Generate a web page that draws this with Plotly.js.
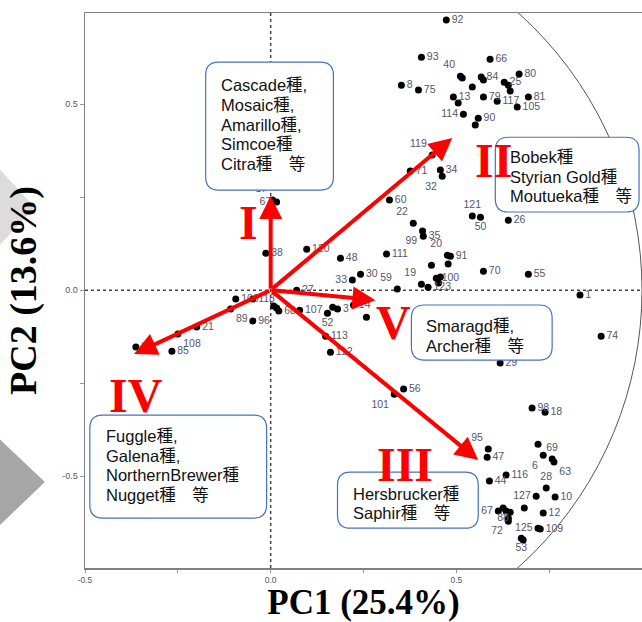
<!DOCTYPE html>
<html>
<head>
<meta charset="utf-8">
<script src="https://cdn.plot.ly/plotly-3.0.1.min.js"></script>
<style>html,body{margin:0;padding:0;background:#fff;}#chart{width:642px;height:622px;}</style>
</head>
<body>
<div id="chart"></div>
<script>
// ---- sample scores (PC1, PC2) ----
const sampleIds = ["92","93","66","40","","8","75","84","","","80","25","","","81","13","","79","117","105","114","90","",
  "119","71","34","32","60","121","50","26","22","99","35","111","20","91","","","70","55","19","123","100","","","59","1","74",
  "17","67","38","120","48","30","33","27","14","","","3","52","107","","","68","118","106","89","96","113","112","21","108","85","37",
  "29","56","101","98","18","95","47","","6","69","63","116","44","28","10","127","","12","67","88","","","","72","125","109","53",""];
const pc1 = [0.473,0.406,0.591,0.511,0.516,0.352,0.398,0.567,0.573,0.543,0.669,0.629,0.640,0.645,0.694,0.492,0.505,0.573,0.610,0.664,0.519,0.559,0.551,
  0.435,0.376,0.457,0.462,0.320,0.543,0.565,0.640,0.384,0.409,0.411,0.312,0.476,0.484,0.433,0.478,0.573,0.694,0.406,0.424,0.446,0.457,0.452,0.341,0.833,0.890,
  0.005,0.016,-0.013,0.097,0.188,0.242,0.220,0.070,0.223,0.258,0.167,0.180,0.153,0.078,0.008,0.016,0.022,-0.048,-0.094,-0.108,-0.048,0.148,0.161,-0.199,-0.250,-0.266,-0.363,
  0.618,0.358,0.333,0.704,0.739,0.586,0.583,0.720,0.734,0.758,0.763,0.634,0.589,0.742,0.766,0.715,0.683,0.734,0.613,0.626,0.634,0.645,0.640,0.640,0.720,0.726,0.675,0.680];
const pc2 = [0.726,0.626,0.621,0.575,0.570,0.551,0.538,0.573,0.565,0.546,0.581,0.559,0.551,0.535,0.519,0.519,0.503,0.519,0.508,0.492,0.473,0.462,0.444,
  0.363,0.320,0.323,0.306,0.242,0.199,0.196,0.188,0.180,0.159,0.145,0.097,0.094,0.091,0.067,0.070,0.051,0.043,0.016,0.008,0.032,0.035,0.019,0.003,-0.013,-0.124,
  0.242,0.237,0.099,0.110,0.086,0.043,0.027,0.000,-0.040,-0.073,-0.046,-0.051,-0.062,-0.054,-0.043,-0.048,-0.056,-0.024,-0.024,-0.051,-0.083,-0.124,-0.167,-0.099,-0.118,-0.164,-0.153,
  -0.196,-0.266,-0.280,-0.317,-0.328,-0.427,-0.449,-0.414,-0.444,-0.454,-0.462,-0.497,-0.513,-0.532,-0.556,-0.554,-0.586,-0.599,-0.594,-0.586,-0.594,-0.597,-0.613,-0.621,-0.640,-0.642,-0.667,-0.672];

// ---- loading vectors ----
const loadingNames = ["I","II","III","IV","V"];
const loadPC1 = [0.000, 0.489, 0.559, -0.368, 0.282];
const loadPC2 = [0.253, 0.409, -0.457, -0.172, -0.027];

// ---- variety groups ----
const groupText = [
  ["Cascade種,","Mosaic種,","Amarillo種,","Simcoe種","Citra種　等"],
  ["Bobek種","Styrian Gold種","Moutueka種　等"],
  ["Smaragd種,","Archer種　等"],
  ["Fuggle種,","Galena種,","NorthernBrewer種","Nugget種　等"],
  ["Hersbrucker種","Saphir種　等"]
];

// ---- tick labels ----
const xTickVals = [-0.5,-0.25,0,0.25,0.5,0.75,1];
const xTickText = ["-0.5","","0.0","","0.5","","1"];
const yTickVals = [-0.5,-0.25,0,0.25,0.5];
const yTickText = ["-0.5","","0.0","","0.5"];

// ---- label placement (style) ----
const posOverride = {"40":"top left","114":"middle left","121":"top center","50":"bottom center","22":"top left","99":"bottom left",
  "20":"top left","19":"top left","59":"top left","33":"middle left","89":"bottom right","52":"bottom center","95":"top left",
  "28":"top center","127":"middle left","67":"middle left","72":"bottom left","125":"middle left","53":"bottom center","101":"bottom left",
  "17":"top left","32":"bottom left","119":"top left","69":"top center","6":"bottom left","63":"bottom right","108":"bottom right","88":"bottom center"};
const textPos = sampleIds.map(s => posOverride[s] || "middle right");

const scatter = {
  x: pc1, y: pc2, text: sampleIds, mode: "markers+text", type: "scatter",
  textposition: textPos,
  textfont: {family: "Liberation Sans, Arial, sans-serif", size: 10.5, color: "#55556a"},
  marker: {color: "#000", size: 7},
  hoverinfo: "none", showlegend: false, cliponaxis: false
};

// rounded boxes (data coords)
const boxes = [
  [-0.175, 0.169, 0.269, 0.613],
  [0.605, 0.992, 0.210, 0.411],
  [0.379, 0.758, -0.188, -0.040],
  [-0.487, -0.011, -0.613, -0.336],
  [0.180, 0.559, -0.640, -0.489]
];
const textAnchor = [[-0.140, 0.551],[0.640, 0.358],[0.414, -0.097],[-0.449, -0.392],[0.215, -0.547]];
const lineStep = 0.053;
const romanPos = [[-0.059, 0.183],[0.599, 0.349],[0.363, -0.470],[-0.363, -0.282],[0.331, -0.086]];

function roundRect(x0,x1,y0,y1,r){
  return `M${x0+r},${y0} L${x1-r},${y0} Q${x1},${y0} ${x1},${y0+r} L${x1},${y1-r} Q${x1},${y1} ${x1-r},${y1} L${x0+r},${y1} Q${x0},${y1} ${x0},${y1-r} L${x0},${y0+r} Q${x0},${y0} ${x0+r},${y0} Z`;
}

const shapes = [
  {type:"line", xref:"x", yref:"paper", x0:0, x1:0, y0:0, y1:1, line:{color:"#444", width:1.5, dash:"dot"}, layer:"below"},
  {type:"line", xref:"paper", yref:"y", x0:0, x1:1, y0:0, y1:0, line:{color:"#444", width:1.5, dash:"dot"}, layer:"below"},
  {type:"circle", xref:"x", yref:"y", x0:-1, x1:1, y0:-1, y1:1, line:{color:"#555", width:1}, layer:"below"},
  // decorative slide chevrons at left edge
  {type:"path", xref:"paper", yref:"paper", path:"M-0.153,0.582 L-0.090,0.650 L-0.153,0.718 Z", fillcolor:"#dcdcdc", line:{width:0}, layer:"below"},
  {type:"path", xref:"paper", yref:"paper", path:"M-0.153,0.077 L-0.072,0.155 L-0.153,0.232 Z", fillcolor:"#a6a6a6", line:{width:0}, layer:"below"}
];
boxes.forEach(b => shapes.push({type:"path", xref:"x", yref:"y", path: roundRect(b[0],b[1],b[2],b[3],0.035),
  fillcolor:"#fff", line:{color:"#4472c4", width:1.2}, layer:"above"}));

const annotations = [];
loadingNames.forEach((n,i) => {
  annotations.push({x: loadPC1[i], y: loadPC2[i], xref:"x", yref:"y", ax:0, ay:0, axref:"x", ayref:"y",
    text:"", showarrow:true, arrowhead:2, arrowsize:1.15, arrowwidth:4, arrowcolor:"#ff0000", standoff:0, startstandoff:0});
  annotations.push({x: romanPos[i][0], y: romanPos[i][1], xref:"x", yref:"y", text:"<b>"+n+"</b>", showarrow:false,
    font:{family:"Liberation Serif, Times New Roman, serif", size:48, color:"#ff0000"}, borderpad:0});
});
groupText.forEach((lines,g) => {
  lines.forEach((t,k) => annotations.push({x: textAnchor[g][0], y: textAnchor[g][1] - k*lineStep, xref:"x", yref:"y",
    xanchor:"left", yanchor:"middle", text:t, showarrow:false,
    font:{family:"Liberation Sans, Arial, Noto Sans CJK JP, sans-serif", size:16.5, color:"#111"}}));
});

const layout = {
  width: 642, height: 622,
  margin: {l: 85, r: 0, t: 13, b: 54},
  paper_bgcolor: "#fff", plot_bgcolor: "#fff",
  showlegend: false,
  xaxis: {range: [-0.5, 1.0], tickvals: xTickVals, ticktext: xTickText, showgrid:false, zeroline:false,
    showline:true, linecolor:"#808080", linewidth:1.5, mirror:true, ticks:"outside", ticklen:3, tickcolor:"#999",
    tickfont:{family:"Liberation Sans, Arial, sans-serif", size:8.5, color:"#555"},
    title:{text:"<b>PC1 (25.4%)</b>", font:{family:"Liberation Serif, Times New Roman, serif", size:35, color:"#000"}, standoff:10},
    automargin:false, fixedrange:true},
  yaxis: {range: [-0.747, 0.745], tickvals: yTickVals, ticktext: yTickText, showgrid:false, zeroline:false,
    showline:true, linecolor:"#808080", linewidth:1.5, ticks:"outside", ticklen:4, tickcolor:"#999",
    tickfont:{family:"Liberation Sans, Arial, sans-serif", size:9, color:"#555"},
    title:{text:"<b>PC2 (13.6%)</b>", font:{family:"Liberation Serif, Times New Roman, serif", size:38, color:"#000"}, standoff:14},
    automargin:false, fixedrange:true},
  shapes: shapes,
  annotations: annotations
};

Plotly.newPlot("chart", [scatter], layout, {displayModeBar:false, staticPlot:true});
</script>
</body>
</html>
